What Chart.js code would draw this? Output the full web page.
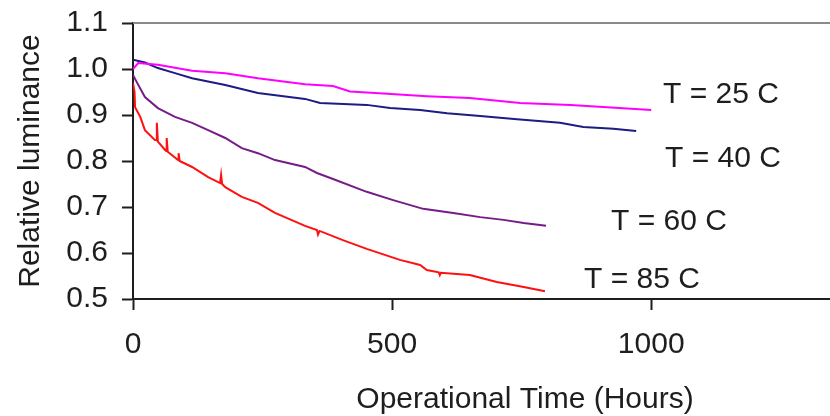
<!DOCTYPE html>
<html>
<head>
<meta charset="utf-8">
<script src="https://cdn.jsdelivr.net/npm/chart.js@4"></script>
<style>
  html, body { margin: 0; padding: 0; background: #fff; }
  #wrap { width: 830px; height: 416px; }
</style>
</head>
<body>
<div id="wrap"><canvas id="chart"></canvas></div>
<script>
// values
const hours25 = [0, 10, 48, 114, 178, 241, 332, 386, 419, 483, 567, 650, 747, 844, 915, 1000];
const lum25 = [1.000, 1.013, 1.009, 0.996, 0.991, 0.980, 0.967, 0.963, 0.951, 0.947, 0.941, 0.937, 0.926, 0.922, 0.917, 0.911];

const hours40 = [0, 23, 48, 81, 114, 178, 241, 332, 361, 451, 496, 554, 606, 670, 741, 824, 869, 927, 971];
const lum40 = [1.020, 1.014, 1.002, 0.991, 0.980, 0.965, 0.948, 0.935, 0.926, 0.922, 0.915, 0.911, 0.904, 0.898, 0.891, 0.883, 0.874, 0.870, 0.865];

const hours60 = [0, 7, 23, 48, 81, 114, 145, 178, 210, 241, 274, 332, 355, 386, 451, 502, 560, 618, 670, 715, 754, 797];
const lum60 = [0.987, 0.972, 0.939, 0.915, 0.896, 0.883, 0.867, 0.850, 0.828, 0.817, 0.802, 0.787, 0.774, 0.761, 0.733, 0.715, 0.696, 0.687, 0.678, 0.672, 0.665, 0.659];

const hours85 = [0, 3, 4, 14, 23, 42, 45, 46, 48, 62, 64, 65, 67, 87, 88, 90, 114, 145, 168, 170, 172, 178, 210, 241, 274, 332, 355, 357, 360, 405, 451, 515, 554, 567, 590, 592, 594, 650, 702, 754, 795];
const lum85 = [0.970, 0.950, 0.917, 0.896, 0.867, 0.846, 0.845, 0.883, 0.842, 0.824, 0.822, 0.850, 0.820, 0.802, 0.817, 0.800, 0.787, 0.765, 0.752, 0.770, 0.750, 0.743, 0.722, 0.709, 0.687, 0.659, 0.650, 0.640, 0.648, 0.628, 0.609, 0.585, 0.574, 0.563, 0.558, 0.552, 0.557, 0.552, 0.537, 0.526, 0.517];

const seriesLabels = ["T = 25 C", "T = 40 C", "T = 60 C", "T = 85 C"];
const xTicks = [0, 500, 1000];
const yTicks = [0.5, 0.6, 0.7, 0.8, 0.9, 1.0, 1.1];

const FONT = "'Liberation Sans', Arial, sans-serif";
const INK = "#1e1e1e";

const toPoints = (xs, ys) => xs.map((x, i) => ({ x: x, y: ys[i] }));

const line = (label, xs, ys, color) => ({
  label: label,
  data: toPoints(xs, ys),
  borderColor: color,
  backgroundColor: color,
  borderWidth: 2,
  pointRadius: 0,
  showLine: true,
  tension: 0,
});

// plot frame top line, the curve labels and the x axis title
const extras = {
  id: "extras",
  afterDraw(chart) {
    const ctx = chart.ctx;
    const area = chart.chartArea;
    ctx.save();
    ctx.strokeStyle = "#8a8a8a";
    ctx.lineWidth = 2;
    ctx.beginPath();
    ctx.moveTo(area.left, area.top);
    ctx.lineTo(area.right, area.top);
    ctx.stroke();

    ctx.fillStyle = INK;
    ctx.font = "30px " + FONT;
    ctx.textBaseline = "alphabetic";
    ctx.textAlign = "left";
    const spots = [[663, 103], [665, 167], [611, 230], [584, 288]];
    seriesLabels.forEach((t, i) => ctx.fillText(t, spots[i][0], spots[i][1]));

    ctx.textAlign = "center";
    ctx.fillText("Operational Time (Hours)", 525, 408);
    ctx.restore();
  },
};

new Chart(document.getElementById("chart"), {
  type: "scatter",
  data: {
    datasets: [
      line(seriesLabels[0], hours25, lum25, "#ff00ff"),
      line(seriesLabels[1], hours40, lum40, "#1c1c84"),
      line(seriesLabels[2], hours60, lum60, "#761c88"),
      line(seriesLabels[3], hours85, lum85, "#ff1010"),
    ],
  },
  options: {
    responsive: true,
    maintainAspectRatio: false,
    animation: false,
    layout: { padding: { top: 23, right: 0, bottom: 0, left: 0 } },
    plugins: { legend: { display: false }, tooltip: { enabled: false } },
    scales: {
      x: {
        type: "linear",
        min: 0,
        max: 1345,
        afterBuildTicks: (s) => { s.ticks = xTicks.map((v) => ({ value: v })); },
        afterFit: (s) => { s.height = 117; },
        grid: { drawOnChartArea: false, drawTicks: true, tickLength: 11, tickWidth: 2, tickColor: INK },
        border: { display: true, color: INK, width: 2 },
        ticks: {
          color: INK,
          font: { family: FONT, size: 30 },
          padding: 17,
          maxRotation: 0,
          callback: (v) => String(v),
        },
      },
      y: {
        min: 0.5,
        max: 1.1,
        afterBuildTicks: (s) => { s.ticks = yTicks.map((v) => ({ value: v })); },
        afterFit: (s) => {
          s.width = 133;
          s.paddingTop = 0;
          s.paddingBottom = 0;
        },
        grid: { drawOnChartArea: false, drawTicks: true, tickLength: 11, tickWidth: 2, tickColor: INK },
        border: { display: true, color: INK, width: 2 },
        ticks: {
          color: INK,
          font: { family: FONT, size: 30 },
          padding: 14,
          callback: (v) => Number(v).toFixed(1),
        },
        title: {
          display: true,
          text: "Relative luminance",
          color: INK,
          font: { family: FONT, size: 30 },
          padding: { top: 13, bottom: 0 },
        },
      },
    },
  },
  plugins: [extras],
});
</script>
</body>
</html>
